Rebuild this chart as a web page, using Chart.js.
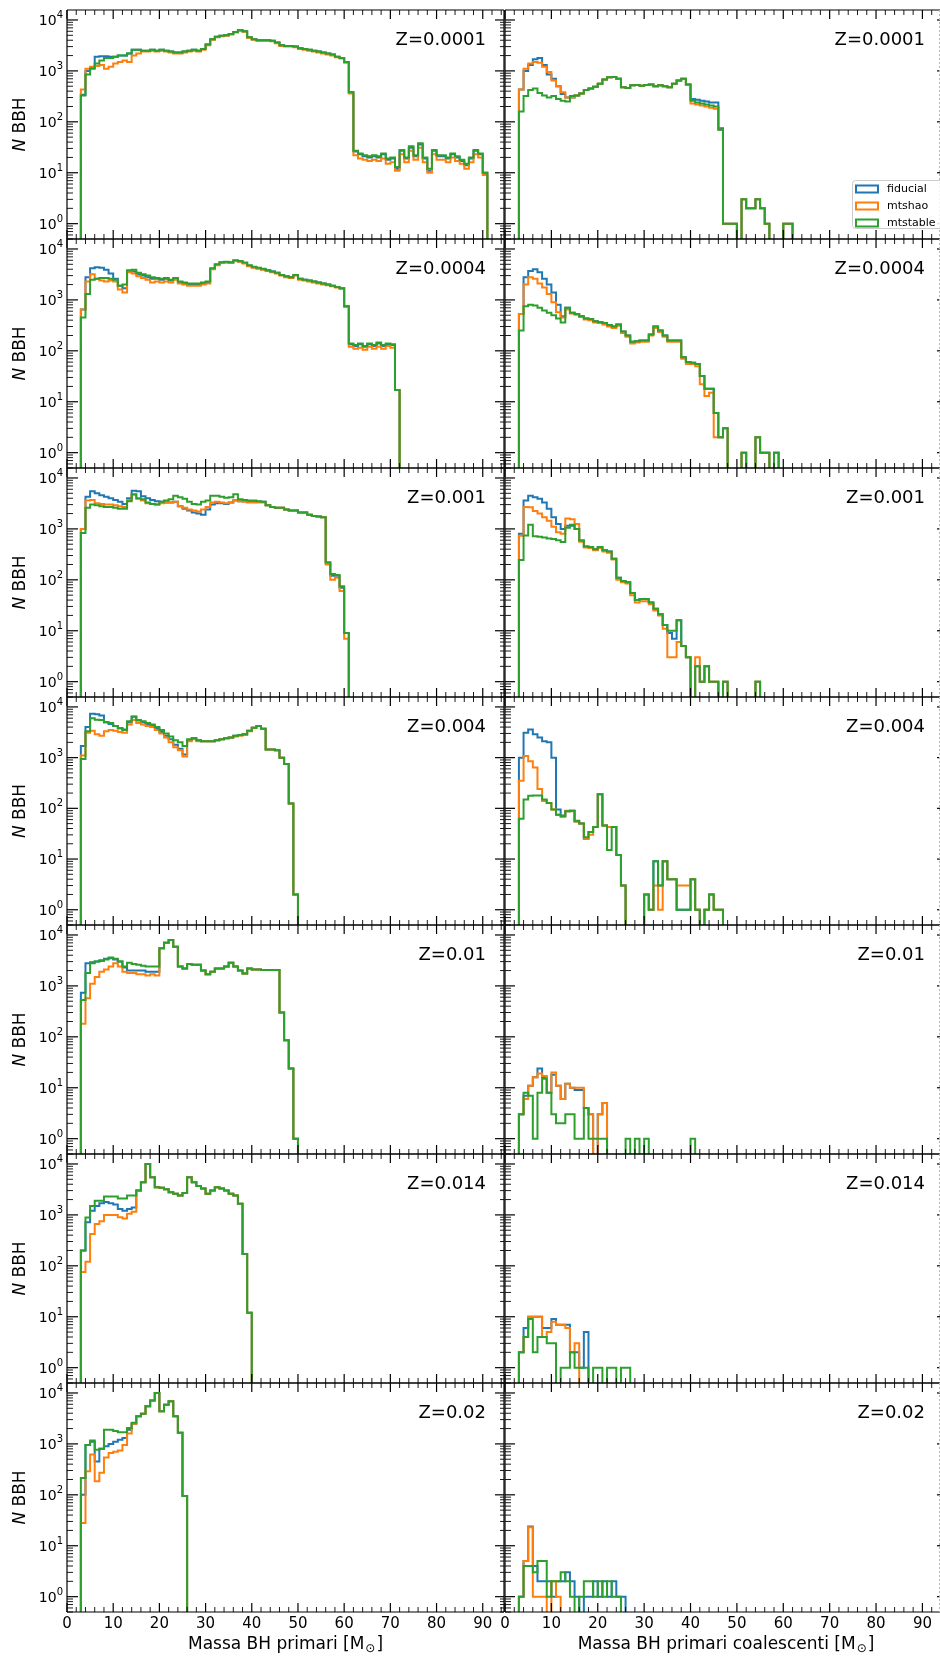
<!DOCTYPE html>
<html>
<head>
<meta charset="utf-8">
<script src="https://cdn.jsdelivr.net/npm/chart.js@4.4.1/dist/chart.umd.min.js"></script>
<style>
  html, body { margin: 0; padding: 0; background: #fff; }
  #fig { position: relative; width: 940px; height: 1657px; overflow: hidden; }
  #fig canvas { position: absolute; }
</style>
</head>
<body>
<div id="fig"></div>
<script>
// histogram counts, one value per 1 Msun bin, first bin starts at binStart
const binStart = 3;
const seriesNames = ['fiducial', 'mtshao', 'mtstable'];
const seriesColors = ['#1f77b4', '#ff7f0e', '#2ca02c'];
const zLabels = ['Z=0.0001', 'Z=0.0004', 'Z=0.001', 'Z=0.004', 'Z=0.01', 'Z=0.014', 'Z=0.02'];
const xTickLabels = [0, 10, 20, 30, 40, 50, 60, 70, 80, 90];
const yTickDecades = [0, 1, 2, 3, 4];
const xTitles = ['Massa BH primari', 'Massa BH primari coalescenti'];
const xLimits = [[0, 94.6], [0, 95.3]];
const yLimits = [0.5, 15700];

// --- primary BH mass (left column) ---
const fidP1 = [340, 1000, 1150, 1900, 1950, 1950, 1900, 1900, 2000, 2000, 2200, 2600, 2600, 2500, 2500, 2600, 2500, 2600, 2500, 2400, 2300, 2300, 2400, 2500, 2600, 2500, 2700, 3300, 4200, 4700, 4900, 5000, 5300, 5800, 6300, 6000, 4600, 4200, 4000, 4000, 4000, 3900, 3600, 3200, 3100, 3100, 3000, 2800, 2700, 2600, 2500, 2400, 2300, 2200, 2100, 1900, 1800, 1500, 380, 26, 23, 21, 20, 21, 20, 23, 18, 19, 12, 27, 19, 31, 21, 36, 19, 11, 27, 21, 21, 19, 23, 20, 17, 14, 19, 27, 23, 10];
const shaoP1 = [430, 1100, 1200, 1250, 1300, 1100, 1200, 1400, 1500, 1600, 1500, 2000, 2200, 2400, 2400, 2500, 2400, 2500, 2400, 2300, 2200, 2200, 2300, 2400, 2500, 2400, 2600, 3200, 4100, 4600, 4800, 4900, 5200, 5700, 6200, 5900, 4500, 4100, 3900, 3900, 3900, 3800, 3500, 3100, 3000, 3000, 2900, 2700, 2600, 2500, 2400, 2300, 2200, 2100, 2000, 1850, 1750, 1450, 360, 22, 19, 18, 17, 18, 17, 19, 15, 16, 11, 23, 16, 27, 18, 31, 16, 10, 23, 18, 18, 16, 20, 17, 15, 12, 16, 23, 20, 9];
const stabP1 = [330, 850, 1100, 1400, 1600, 1800, 1800, 1900, 2000, 2000, 2200, 2600, 2600, 2500, 2500, 2600, 2500, 2600, 2500, 2400, 2300, 2300, 2400, 2500, 2600, 2500, 2700, 3300, 4200, 4700, 4900, 5000, 5300, 5800, 6300, 6000, 4600, 4200, 4000, 4000, 4000, 3900, 3600, 3200, 3100, 3100, 3000, 2800, 2700, 2600, 2500, 2400, 2300, 2200, 2100, 1900, 1800, 1500, 380, 27, 24, 22, 21, 22, 21, 24, 19, 20, 13, 28, 20, 33, 22, 38, 20, 12, 28, 22, 22, 20, 24, 21, 18, 15, 20, 28, 24, 10];

const fidP2 = [650, 2800, 4200, 4400, 4300, 3900, 3300, 2600, 1900, 1700, 3700, 3600, 3200, 3000, 2800, 2600, 2600, 2500, 2600, 2400, 2600, 2200, 2100, 2000, 2000, 2000, 2100, 2200, 4100, 4900, 5400, 5500, 5400, 5900, 5700, 5300, 4700, 4400, 4200, 4000, 3800, 3600, 3400, 3100, 2900, 2800, 3100, 2600, 2500, 2400, 2300, 2200, 2100, 2000, 1900, 1800, 1700, 750, 135, 125, 135, 120, 135, 125, 140, 125, 135, 130, 17];
const shaoP2 = [650, 2300, 3200, 2600, 2400, 2300, 2400, 2300, 1600, 1400, 3500, 3300, 2900, 2700, 2500, 2200, 2300, 2200, 2300, 2200, 2500, 2100, 2000, 1900, 1900, 1900, 2000, 2100, 4000, 4800, 5300, 5400, 5300, 5800, 5600, 5200, 4600, 4300, 4100, 3900, 3700, 3500, 3300, 3000, 2800, 2700, 3000, 2500, 2400, 2300, 2200, 2100, 2000, 1950, 1850, 1750, 1650, 730, 120, 110, 115, 105, 120, 110, 120, 110, 125, 115, 17];
const stabP2 = [450, 1300, 2500, 2600, 2700, 2700, 2600, 2500, 1900, 2000, 3800, 3900, 3400, 3200, 3000, 2800, 2700, 2600, 2700, 2500, 2700, 2300, 2200, 2100, 2100, 2100, 2200, 2300, 4200, 5000, 5500, 5600, 5500, 6000, 5800, 5400, 4800, 4500, 4300, 4100, 3800, 3600, 3400, 3100, 2900, 2800, 3100, 2600, 2500, 2400, 2300, 2200, 2100, 2000, 1900, 1800, 1700, 750, 140, 130, 140, 125, 140, 130, 145, 130, 140, 135, 17];

const fidP3 = [1000, 4300, 5500, 5000, 4600, 4300, 4000, 3700, 3400, 3100, 4000, 5600, 5500, 4400, 4000, 3700, 3500, 3400, 3300, 3300, 3400, 2800, 2500, 2300, 2100, 2000, 1900, 2400, 3000, 3200, 3200, 3100, 3300, 3600, 3500, 3500, 3500, 3500, 3400, 3400, 2900, 2700, 2600, 2600, 2400, 2300, 2300, 2100, 2100, 1900, 1800, 1750, 1700, 220, 120, 120, 70, 9];
const shaoP3 = [1000, 3600, 3700, 3200, 3100, 3000, 3000, 2900, 2800, 2700, 3700, 4700, 3900, 3600, 3200, 3100, 3000, 3200, 3300, 3300, 3400, 2800, 2600, 2400, 2300, 2200, 2400, 2700, 3300, 3400, 3300, 3200, 3300, 3700, 3500, 3400, 3300, 3300, 3300, 3300, 2900, 2700, 2600, 2600, 2400, 2300, 2300, 2100, 2100, 1900, 1800, 1750, 1700, 200, 100, 110, 60, 7];
const stabP3 = [830, 2600, 3000, 2900, 2800, 2700, 2700, 2600, 2500, 2500, 3500, 4800, 4000, 3800, 3300, 3100, 3000, 3400, 3600, 3800, 4500, 4200, 3900, 3400, 3100, 3000, 3400, 3600, 4500, 4500, 4300, 4100, 4200, 4800, 3800, 3700, 3600, 3600, 3500, 3400, 2900, 2700, 2600, 2600, 2400, 2300, 2300, 2100, 2100, 1900, 1800, 1750, 1700, 220, 130, 125, 75, 9];

const fidP4 = [1700, 4000, 7300, 7200, 6800, 5000, 4600, 4200, 3800, 3600, 5000, 6400, 5400, 5000, 4600, 4300, 3800, 3200, 2700, 2300, 1800, 1500, 1150, 2200, 2400, 2200, 2100, 2100, 2100, 2200, 2300, 2400, 2500, 2700, 2800, 2900, 3400, 3900, 4200, 3700, 1450, 1450, 1400, 1000, 750, 125, 2];
const shaoP4 = [1100, 3100, 3400, 2900, 2700, 3300, 3500, 3400, 3200, 3100, 4500, 5500, 4800, 4500, 4200, 4000, 3500, 3000, 2500, 2000, 1600, 1400, 1050, 2100, 2300, 2100, 2100, 2100, 2100, 2200, 2300, 2400, 2500, 2600, 2700, 2800, 3300, 3900, 4200, 3700, 1450, 1450, 1400, 1000, 750, 125, 2];
const stabP4 = [940, 3300, 6000, 5600, 5500, 5000, 4800, 4200, 3800, 3500, 5200, 6500, 5500, 5200, 4800, 4500, 4000, 3500, 3000, 2600, 2200, 2000, 1700, 2300, 2400, 2200, 2100, 2100, 2100, 2200, 2300, 2400, 2500, 2700, 2800, 2900, 3400, 3900, 4200, 3700, 1450, 1450, 1400, 1000, 750, 125, 2];

const fidP5 = [730, 2800, 2900, 3000, 3200, 3400, 3500, 3300, 3000, 2300, 2000, 2000, 2000, 2000, 1900, 1900, 1900, 5500, 7000, 8000, 5900, 2400, 2200, 2700, 2600, 2600, 2000, 1700, 1900, 2200, 2200, 2400, 2850, 2400, 2000, 1750, 2200, 2100, 2100, 2050, 2050, 2050, 2050, 300, 86, 24, 1];
const shaoP5 = [180, 570, 1100, 1500, 1900, 2100, 2400, 2800, 2400, 1900, 1800, 1800, 1700, 1700, 1600, 1700, 1600, 5500, 7000, 8000, 5900, 2400, 2200, 2700, 2600, 2600, 2000, 1700, 1900, 2200, 2200, 2400, 2850, 2400, 2000, 1750, 2200, 2100, 2100, 2050, 2050, 2050, 2050, 300, 86, 24, 1];
const stabP5 = [530, 1800, 2800, 3000, 3100, 3300, 3600, 3400, 3000, 2400, 2850, 2700, 2600, 2500, 2400, 2400, 2400, 5500, 7000, 8000, 5900, 2400, 2200, 2700, 2600, 2600, 2000, 1700, 1900, 2200, 2200, 2400, 2850, 2400, 2000, 1750, 2200, 2100, 2100, 2050, 2050, 2050, 2050, 300, 86, 24, 1];

const fidP6 = [200, 720, 1200, 1500, 1700, 1800, 1700, 1600, 1300, 1200, 1300, 1400, 3000, 4400, 10000, 5500, 3500, 3400, 3200, 2800, 2600, 2400, 2700, 5500, 4400, 3700, 3300, 2600, 3000, 3500, 3300, 3000, 2600, 2400, 1650, 170, 12];
const shaoP6 = [76, 120, 420, 660, 750, 1000, 1000, 1000, 900, 850, 1050, 1150, 3000, 4400, 10000, 5500, 3500, 3400, 3200, 2800, 2600, 2400, 2700, 5500, 4400, 3700, 3300, 2600, 3000, 3500, 3300, 3000, 2600, 2400, 1650, 170, 12];
const stabP6 = [200, 890, 1500, 1900, 1900, 2300, 2300, 2300, 2100, 2100, 2400, 2400, 3000, 4400, 10000, 5500, 3500, 3400, 3200, 2800, 2600, 2400, 2700, 5500, 4400, 3700, 3300, 2600, 3000, 3500, 3300, 3000, 2600, 2400, 1650, 170, 12];

const fidP7 = [100, 950, 1100, 450, 800, 900, 1000, 1100, 1200, 1300, 1900, 2500, 3500, 3900, 5500, 7100, 10000, 4400, 5900, 6900, 3500, 1650, 95];
const shaoP7 = [28, 290, 620, 185, 270, 540, 660, 700, 740, 950, 1600, 2500, 3500, 3900, 5500, 7100, 10000, 4400, 5900, 6900, 3500, 1650, 95];
const stabP7 = [215, 950, 1170, 770, 800, 1900, 1900, 1800, 1700, 1700, 2050, 2600, 3500, 3900, 5500, 7100, 10000, 4400, 5900, 6900, 3500, 1650, 95];

// --- merging primary BH mass (right column) ---
const fidC1 = [430, 1000, 1300, 1700, 1800, 1300, 850, 700, 500, 350, 300, 300, 330, 360, 420, 450, 490, 560, 680, 750, 760, 700, 480, 460, 520, 530, 510, 530, 540, 500, 520, 500, 480, 560, 650, 700, 540, 280, 270, 260, 250, 240, 240, 75, 1, 1, 1, 0, 3, 2, 2, 3, 2, 1, 0, 0, 0, 1, 1];
const shaoC1 = [430, 1100, 1400, 1500, 1450, 1200, 950, 650, 500, 380, 300, 300, 330, 360, 420, 450, 490, 560, 680, 750, 760, 700, 480, 460, 520, 530, 510, 530, 540, 500, 520, 500, 480, 560, 650, 700, 540, 230, 220, 210, 200, 190, 180, 70, 1, 1, 1, 0, 3, 2, 2, 3, 2, 1, 0, 0, 0, 1, 1];
const stabC1 = [160, 320, 420, 450, 370, 330, 300, 320, 280, 260, 250, 320, 330, 360, 420, 450, 490, 560, 680, 750, 760, 700, 480, 460, 520, 530, 510, 530, 540, 500, 520, 500, 480, 560, 650, 700, 540, 260, 240, 230, 220, 210, 200, 70, 1, 1, 1, 0, 3, 2, 2, 3, 2, 1, 0, 0, 0, 1, 1];

const fidC2 = [530, 2800, 3700, 4000, 3500, 2600, 2000, 1400, 800, 480, 700, 560, 530, 480, 430, 420, 380, 370, 350, 320, 300, 330, 240, 200, 150, 155, 160, 160, 210, 300, 250, 200, 160, 160, 160, 75, 60, 58, 55, 32, 18, 18, 6, 2, 3, 0, 0, 0, 1, 0, 0, 2, 1, 1, 0, 1];
const shaoC2 = [530, 2000, 2800, 2600, 2100, 1750, 1300, 900, 570, 450, 650, 540, 510, 460, 410, 400, 360, 350, 330, 300, 280, 310, 225, 190, 140, 145, 150, 150, 200, 280, 235, 190, 150, 150, 150, 70, 55, 55, 50, 22, 13, 15, 2, 2, 3, 0, 0, 0, 1, 0, 0, 2, 1, 1, 0, 1];
const stabC2 = [250, 750, 800, 780, 700, 620, 560, 500, 430, 360, 700, 560, 530, 480, 430, 420, 380, 370, 350, 320, 300, 330, 240, 200, 150, 155, 160, 160, 210, 300, 250, 200, 160, 160, 160, 75, 60, 58, 55, 32, 18, 18, 6, 2, 3, 0, 0, 0, 1, 0, 0, 2, 1, 1, 0, 1];

const fidC3 = [800, 3600, 4500, 4200, 3900, 3300, 2500, 1700, 1250, 1000, 1150, 1150, 1000, 590, 450, 440, 400, 440, 380, 360, 260, 110, 95, 90, 55, 40, 42, 42, 36, 27, 21, 13, 9, 7, 16, 5, 3, 0, 2, 1, 2, 1, 1, 0, 1, 0, 0, 0, 0, 0, 0, 1];
const shaoC3 = [730, 2700, 2650, 2250, 2000, 1700, 1450, 1100, 860, 800, 1600, 1550, 1250, 560, 430, 420, 380, 420, 360, 340, 250, 100, 90, 85, 50, 36, 38, 38, 33, 25, 20, 11, 3, 3, 6, 5, 3, 0, 3, 1, 2, 1, 1, 0, 1, 0, 0, 0, 0, 0, 0, 1];
const stabC3 = [245, 740, 1200, 720, 700, 680, 650, 630, 600, 550, 1050, 1200, 1000, 590, 450, 440, 400, 440, 380, 360, 260, 110, 95, 90, 55, 40, 42, 42, 36, 27, 21, 13, 10, 10, 16, 5, 3, 0, 2, 1, 2, 1, 1, 0, 1, 0, 0, 0, 0, 0, 0, 1];

const fidC4 = [1000, 3100, 3600, 2900, 2500, 2100, 2000, 1000, 95, 72, 88, 90, 55, 50, 25, 34, 43, 190, 46, 43, 43, 12, 3, 0, 0, 0, 0, 2, 1, 9, 3, 9, 4, 4, 1, 1, 1, 4, 1, 0, 1, 2, 1, 1];
const shaoC4 = [350, 1080, 850, 640, 240, 140, 128, 95, 75, 68, 90, 88, 55, 50, 25, 30, 43, 190, 46, 43, 43, 12, 3, 0, 0, 0, 0, 2, 1, 3, 1, 9, 4, 4, 3, 3, 3, 4, 1, 0, 1, 2, 1, 1];
const stabC4 = [62, 150, 178, 180, 180, 150, 128, 95, 75, 70, 88, 90, 57, 50, 27, 34, 43, 190, 46, 15, 43, 12, 3, 0, 0, 0, 0, 2, 1, 9, 3, 9, 4, 4, 1, 1, 1, 4, 1, 0, 1, 2, 1, 1];

const fidC5 = [3, 7, 11, 16, 24, 16, 8, 18, 11, 6, 12, 10, 9, 9, 4, 3, 0, 3, 5];
const shaoC5 = [3, 6, 11, 16, 19, 17, 8, 20, 11, 6, 12, 10, 10, 10, 4, 3, 0, 3, 5];
const stabC5 = [3, 8, 7, 1, 8, 15, 8, 3, 2, 2, 3, 3, 1, 1, 4, 1, 1, 1, 1, 0, 0, 0, 0, 1, 0, 1, 0, 1, 0, 0, 0, 0, 0, 0, 0, 0, 0, 1];

const fidC6 = [2, 6, 10, 10, 10, 6, 6, 9, 7, 7, 7, 2, 2, 1, 5];
const shaoC6 = [2, 4, 10, 10, 10, 4, 5, 8, 7, 7, 6, 2, 3];
const stabC6 = [2, 4, 9, 2, 4, 4, 3, 3, 0, 1, 1, 2, 1, 1, 1, 0, 1, 1, 0, 1, 1, 0, 1, 1];

const fidC7 = [1, 5, 24, 4, 2, 2, 2, 1, 2, 2, 3, 2, 1, 0, 1, 1, 2, 1, 2, 1, 2, 1, 1];
const shaoC7 = [1, 5, 23, 1, 1, 1, 0, 2, 1];
const stabC7 = [1, 4, 4, 3, 5, 5, 1, 2, 2, 3, 2, 1, 0, 1, 2, 2, 1, 2, 1, 2, 1, 1];

const primari = [
  [fidP1, shaoP1, stabP1], [fidP2, shaoP2, stabP2], [fidP3, shaoP3, stabP3],
  [fidP4, shaoP4, stabP4], [fidP5, shaoP5, stabP5], [fidP6, shaoP6, stabP6],
  [fidP7, shaoP7, stabP7]
];
const coalescenti = [
  [fidC1, shaoC1, stabC1], [fidC2, shaoC2, stabC2], [fidC3, shaoC3, stabC3],
  [fidC4, shaoC4, stabC4], [fidC5, shaoC5, stabC5], [fidC6, shaoC6, stabC6],
  [fidC7, shaoC7, stabC7]
];
const columns = [primari, coalescenti];

// page layout (pixels)
const ROW_TOP = 10, ROW_H = 228.857;
const colBoxes = [
  {left: 67, right: 504, padL: 67, padR: 10, zInset: 18},
  {left: 505, right: 947, padL: 15, padR: 5, zInset: 22}
];
const PAD_T = 14, PAD_B = 14, PAD_B_LAST = 48;
const FONT = '"DejaVu Sans", sans-serif';

// histogram outline (matplotlib histtype='step'); empty bins drop below the log axis
function stepPoints(counts) {
  const floor = 0.3;
  const pts = [{x: binStart, y: floor}];
  counts.forEach((c, i) => pts.push({x: binStart + i, y: c > 0 ? c : floor}));
  const last = counts[counts.length - 1];
  pts.push({x: binStart + counts.length, y: last > 0 ? last : floor});
  pts.push({x: binStart + counts.length, y: floor});
  return pts;
}

function seg(ctx, x1, y1, x2, y2) {
  ctx.beginPath();
  ctx.moveTo(x1, y1);
  ctx.lineTo(x2, y2);
  ctx.stroke();
}

function makeDecor(row, col) {
  const lastRow = row === zLabels.length - 1;
  return {
    id: 'panelDecor',
    afterDatasetsDraw(chart) {
      const ctx = chart.ctx;
      const xs = chart.scales.x, ys = chart.scales.y;
      const a = chart.chartArea;
      ctx.save();
      ctx.strokeStyle = '#000';
      ctx.fillStyle = '#000';

      // spines
      ctx.lineWidth = 1.2;
      seg(ctx, a.left, a.top, a.right, a.top);
      seg(ctx, a.left, a.bottom, a.right, a.bottom);
      seg(ctx, a.left, a.top, a.left, a.bottom);
      if (col === 0) seg(ctx, a.right, a.top, a.right, a.bottom);

      // x ticks, inward on top and bottom
      for (let v = 0; v <= 96; v += 2) {
        const px = xs.getPixelForValue(v);
        if (px > a.right + 0.1) continue;
        const major = v % 10 === 0;
        const len = major ? 9 : 5;
        ctx.lineWidth = major ? 1.2 : 0.9;
        seg(ctx, px, a.top, px, a.top + len);
        seg(ctx, px, a.bottom, px, a.bottom - len);
      }

      // y ticks (log, minor 2..9)
      for (let d = -1; d <= 4; d++) {
        for (let k = 1; k <= 9; k++) {
          const v = k * Math.pow(10, d);
          if (v < yLimits[0] || v > yLimits[1]) continue;
          const py = ys.getPixelForValue(v);
          const major = k === 1;
          ctx.lineWidth = major ? 1.2 : 0.9;
          if (col === 0) {
            seg(ctx, a.left, py, a.left + (major ? 11 : 6), py);
            seg(ctx, a.right, py, a.right - (major ? 9 : 4), py);
          } else {
            seg(ctx, a.left, py, a.left + (major ? 10 : 6), py);
            if (major) seg(ctx, a.right, py, a.right - 10, py);
          }
        }
      }

      // faint line at the cropped right edge of the figure
      if (col === 1) {
        ctx.save();
        ctx.strokeStyle = '#b8b8b8';
        ctx.lineWidth = 1;
        ctx.setLineDash([2, 2]);
        seg(ctx, 939.5 - (colBoxes[1].left - colBoxes[1].padL), a.top, 939.5 - (colBoxes[1].left - colBoxes[1].padL), a.bottom);
        ctx.restore();
      }

      // y tick labels and title (left column only)
      if (col === 0) {
        yTickDecades.forEach(d => {
          const py = ys.getPixelForValue(Math.pow(10, d));
          ctx.font = '10px ' + FONT;
          const wSup = ctx.measureText(String(d)).width;
          ctx.font = '14px ' + FONT;
          const wBase = ctx.measureText('10').width;
          const xEnd = a.left - 4;
          ctx.textAlign = 'left';
          ctx.textBaseline = 'alphabetic';
          ctx.fillText('10', xEnd - wSup - wBase, py + 5);
          ctx.font = '10px ' + FONT;
          ctx.fillText(String(d), xEnd - wSup, py - 2);
        });
        ctx.save();
        ctx.translate(21, (a.top + a.bottom) / 2);
        ctx.rotate(-Math.PI / 2);
        ctx.textBaseline = 'middle';
        ctx.textAlign = 'left';
        ctx.font = 'italic 17px ' + FONT;
        const wN = ctx.measureText('N').width;
        ctx.font = '17px ' + FONT;
        const wRest = ctx.measureText(' BBH').width;
        const x0 = -(wN + wRest) / 2;
        ctx.font = 'italic 17px ' + FONT;
        ctx.fillText('N', x0, 0);
        ctx.font = '17px ' + FONT;
        ctx.fillText(' BBH', x0 + wN, 0);
        ctx.restore();
      }

      // metallicity label
      ctx.font = '18px ' + FONT;
      ctx.textAlign = 'right';
      ctx.textBaseline = 'alphabetic';
      ctx.fillText(zLabels[row], colBoxes[col].right - colBoxes[col].zInset - (colBoxes[col].left - colBoxes[col].padL), a.top + 35);

      // bottom row: tick labels and axis title
      if (lastRow) {
        ctx.font = '15px ' + FONT;
        ctx.textAlign = 'center';
        xTickLabels.forEach(v => {
          const px = xs.getPixelForValue(v);
          ctx.fillText(String(v), px, a.bottom + 16);
        });
        const main = xTitles[col] + ' [M';
        ctx.font = '17px ' + FONT;
        const wMain = ctx.measureText(main).width;
        const wClose = ctx.measureText(']').width;
        ctx.font = '12px ' + FONT;
        const wSun = ctx.measureText('\u2299').width + 2;
        const total = wMain + wSun + wClose;
        let x = (a.left + a.right) / 2 - total / 2;
        const base = a.bottom + 37;
        ctx.textAlign = 'left';
        ctx.font = '17px ' + FONT;
        ctx.fillText(main, x, base);
        x += wMain + 1;
        ctx.font = '12px ' + FONT;
        ctx.fillText('\u2299', x, base + 3);
        x += wSun - 1;
        ctx.font = '17px ' + FONT;
        ctx.fillText(']', x, base);
      }

      // legend (top right panel)
      if (row === 0 && col === 1) {
        const lx = a.right - 95, ly = a.bottom - 59;
        ctx.save();
        ctx.fillStyle = 'rgba(255,255,255,0.85)';
        ctx.strokeStyle = '#cccccc';
        ctx.lineWidth = 1;
        ctx.beginPath();
        ctx.roundRect(lx + 0.5, ly + 0.5, 92, 48, 3);
        ctx.fill();
        ctx.stroke();
        ctx.restore();
        chart.data.datasets.forEach((ds, i) => {
          const cy = a.bottom - 50 + i * 17;
          ctx.save();
          ctx.strokeStyle = ds.borderColor;
          ctx.lineWidth = 2;
          ctx.strokeRect(a.right - 91, cy - 3.5, 22, 7);
          ctx.restore();
          ctx.font = '11px ' + FONT;
          ctx.textAlign = 'left';
          ctx.textBaseline = 'middle';
          ctx.fillText(ds.label, a.right - 60, cy);
        });
      }
      ctx.restore();
    }
  };
}

const fig = document.getElementById('fig');

columns.forEach((panels, col) => {
  const box = colBoxes[col];
  panels.forEach((series, row) => {
    const top = Math.round(ROW_TOP + row * ROW_H);
    const bottom = Math.round(ROW_TOP + (row + 1) * ROW_H);
    const padB = row === panels.length - 1 ? PAD_B_LAST : PAD_B;
    const canvas = document.createElement('canvas');
    const w = box.right - box.left + box.padL + box.padR;
    const h = bottom - top + PAD_T + padB;
    canvas.width = w;
    canvas.height = h;
    canvas.style.width = w + 'px';
    canvas.style.height = h + 'px';
    canvas.style.left = (box.left - box.padL) + 'px';
    canvas.style.top = (top - PAD_T) + 'px';
    fig.appendChild(canvas);

    const datasets = series.map((counts, i) => ({
      label: seriesNames[i],
      data: stepPoints(counts),
      borderColor: seriesColors[i],
      backgroundColor: seriesColors[i],
      borderWidth: 2,
      stepped: 'before',
      fill: false,
      pointRadius: 0,
      borderJoinStyle: 'miter',
      order: 2 - i
    }));

    new Chart(canvas.getContext('2d'), {
      type: 'line',
      data: {datasets},
      options: {
        responsive: false,
        animation: false,
        devicePixelRatio: 1,
        events: [],
        layout: {padding: {left: box.padL, right: box.padR, top: PAD_T, bottom: padB}},
        plugins: {legend: {display: false}, tooltip: {enabled: false}},
        scales: {
          x: {type: 'linear', min: xLimits[col][0], max: xLimits[col][1], display: false},
          y: {type: 'logarithmic', min: yLimits[0], max: yLimits[1], display: false}
        }
      },
      plugins: [makeDecor(row, col)]
    });
  });
});
</script>
</body>
</html>
